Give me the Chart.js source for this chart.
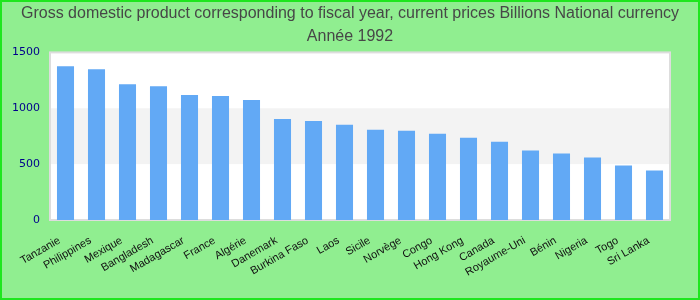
<!DOCTYPE html>
<html>
<head>
<meta charset="utf-8">
<script src="https://cdn.jsdelivr.net/npm/chart.js@4/dist/chart.umd.min.js"></script>
<style>
  html, body { margin: 0; padding: 0; background: #90ee90; }
  #wrap { width: 700px; height: 300px; position: relative; }
</style>
</head>
<body>
<div id="wrap"><canvas id="gdpChart"></canvas></div>
<script>
var countries = ['Tanzanie', 'Philippines', 'Mexique', 'Bangladesh', 'Madagascar', 'France', 'Algérie',
  'Danemark', 'Burkina Faso', 'Laos', 'Sicile', 'Norvège', 'Congo', 'Hong Kong', 'Canada',
  'Royaume-Uni', 'Bénin', 'Nigeria', 'Togo', 'Sri Lanka'];
var gdp = [1375, 1349, 1216, 1198, 1118, 1109, 1074, 905, 887, 852, 808, 799, 772, 737, 701,
  621, 595, 559, 488, 444];
var yTicks = [0, 500, 1000, 1500];
var titleLines = ['Gross domestic product corresponding to fiscal year, current prices Billions National currency', 'Année 1992'];

// background, banded plot area and frame
var backdrop = {
  id: 'backdrop',
  beforeDraw: function(chart) {
    var ctx = chart.ctx, a = chart.chartArea, y = chart.scales.y;
    ctx.save();
    ctx.fillStyle = '#90ee90';
    ctx.fillRect(0, 0, chart.width, chart.height);
    ctx.strokeStyle = '#1ee61e';
    ctx.lineWidth = 2;
    ctx.strokeRect(1, 1, chart.width - 2, chart.height - 2);
    ctx.fillStyle = '#ffffff';
    ctx.fillRect(a.left, a.top, a.right - a.left, a.bottom - a.top);
    for (var i = 0; i < yTicks.length - 1; i++) {
      if (i % 2 == 1) {
        var top = y.getPixelForValue(yTicks[i + 1]);
        var bot = y.getPixelForValue(yTicks[i]);
        ctx.fillStyle = '#f3f3f3';
        ctx.fillRect(a.left, top, a.right - a.left, bot - top);
      }
    }
    ctx.strokeStyle = '#dddddd';
    ctx.lineWidth = 2;
    ctx.strokeRect(a.left, a.top, a.right - a.left, a.bottom - a.top);
    ctx.restore();
  }
};

var ctx = document.getElementById('gdpChart');
new Chart(ctx, {
  type: 'bar',
  data: {
    labels: countries,
    datasets: [{
      data: gdp,
      backgroundColor: '#62a9f5',
      barPercentage: 0.55,
      categoryPercentage: 1.0
    }]
  },
  options: {
    responsive: true,
    maintainAspectRatio: false,
    animation: false,
    layout: { padding: 0 },
    plugins: {
      legend: { display: false },
      tooltip: { enabled: false },
      title: {
        display: true,
        text: titleLines,
        color: '#474747',
        font: { family: 'Liberation Sans', size: 16, weight: 'normal', lineHeight: 1.45 },
        padding: { top: 2, bottom: 4 }
      }
    },
    scales: {
      x: {
        grid: { display: false, drawTicks: false },
        border: { display: false },
        afterFit: function(axis) { axis.height = 80; },
        ticks: {
          color: '#111111',
          font: { family: 'Liberation Sans', size: 11 },
          minRotation: 30,
          maxRotation: 30,
          autoSkip: false,
          labelOffset: -6,
          padding: 14
        }
      },
      y: {
        min: 0,
        max: 1500,
        grid: { display: false, drawTicks: false },
        border: { display: false },
        afterFit: function(axis) { axis.width = 50; },
        afterBuildTicks: function(axis) {
          axis.ticks = yTicks.map(function(v) { return { value: v }; });
        },
        ticks: {
          color: '#00008b',
          font: { family: 'DejaVu Sans', size: 11 },
          padding: 10,
          callback: function(v) { return String(v); }
        }
      },
      spacer: {
        position: 'right',
        display: true,
        grid: { display: false, drawTicks: false },
        border: { display: false },
        ticks: { display: false },
        afterFit: function(axis) { axis.width = 30; }
      }
    }
  },
  plugins: [backdrop]
});
</script>
</body>
</html>
